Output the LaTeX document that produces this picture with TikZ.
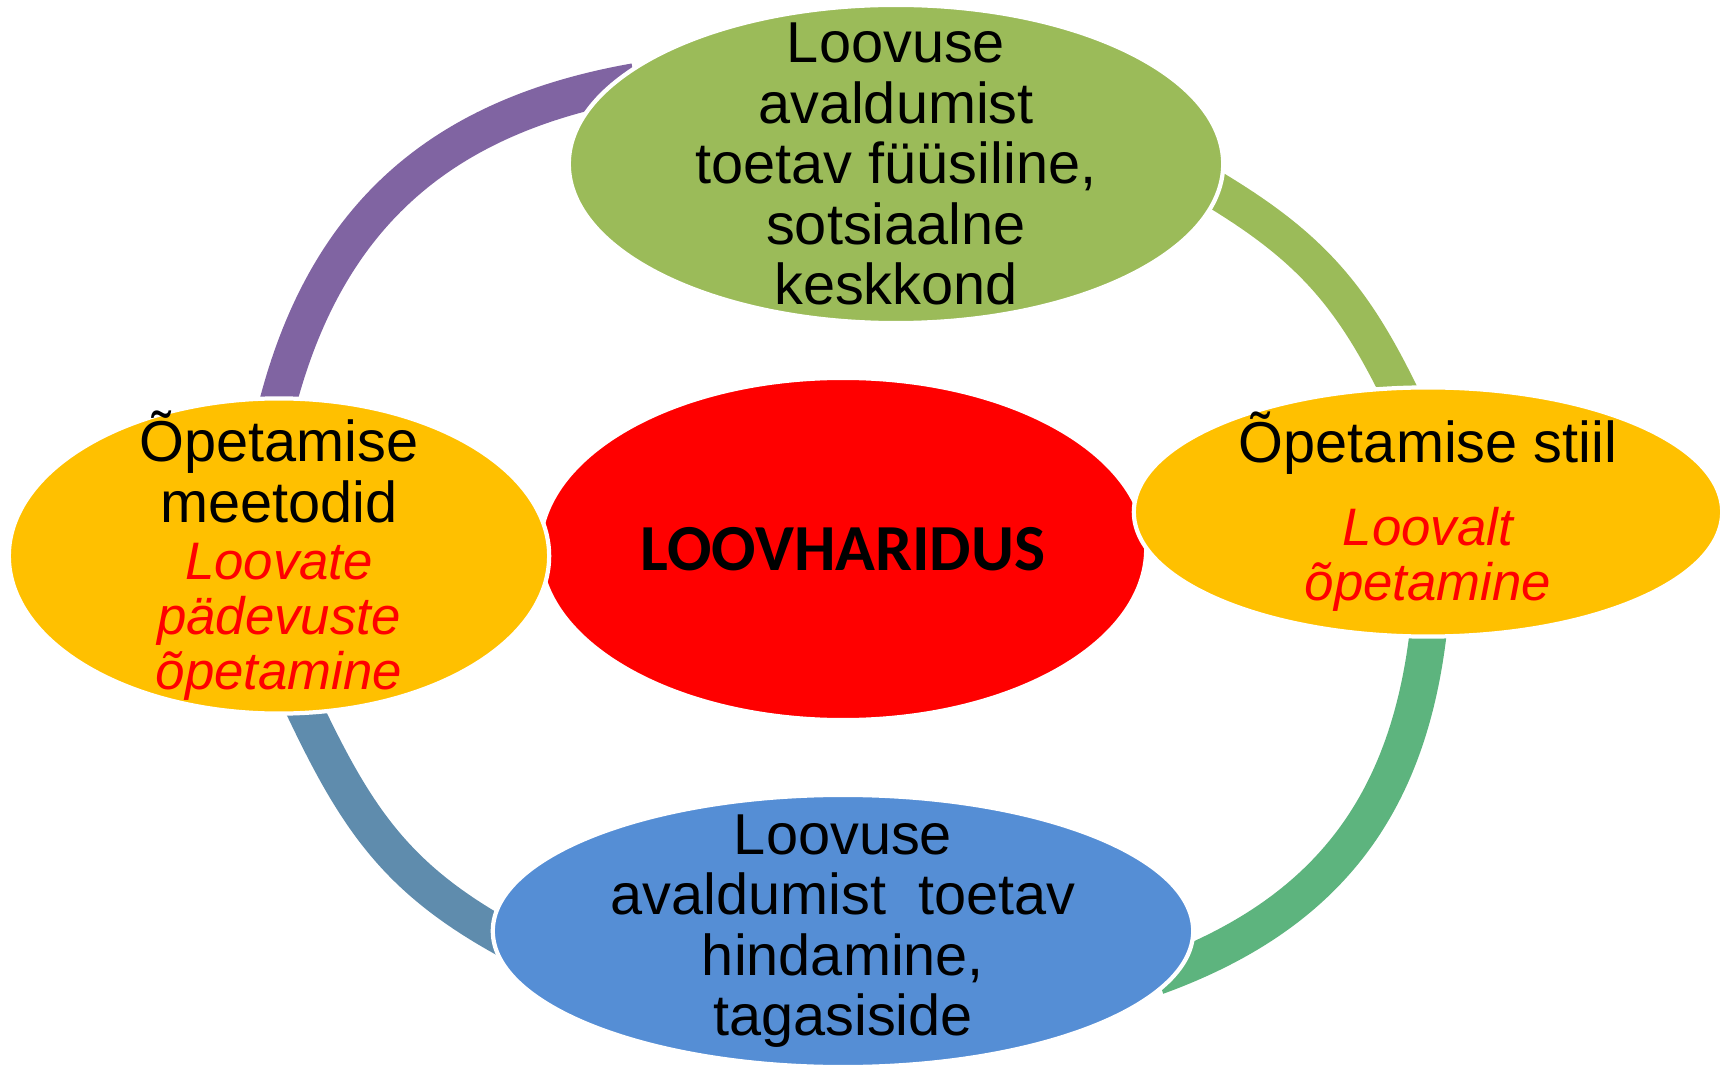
\documentclass[tikz,border=0pt]{standalone}
\usepackage{fontspec}
\setmainfont{Liberation Sans}
\newfontfamily\carlito{Carlito}
\usetikzlibrary{shapes.geometric,backgrounds}
\definecolor{lilla}{HTML}{8064A2}
\definecolor{roheline}{HTML}{9BBB59}
\definecolor{mererohe}{HTML}{5DB47E}
\definecolor{hallsinine}{HTML}{5F8CAD}
\definecolor{kollane}{HTML}{FFC000}
\definecolor{sinine}{HTML}{558ED5}
\newcommand{\punane}[1]{{\color{red}\itshape\fontsize{15}{15.7}\selectfont #1}}

\begin{document}
\begin{tikzpicture}[x=0.01cm, y=0.01cm,
  blob/.style={ellipse, draw=white, line width=1.2pt, inner sep=0pt},
  tekst/.style={align=center, inner sep=0pt, font=\fontsize{16.4}{17.2}\selectfont},
  ring/.style={line width=0.37cm, shorten <=-8pt, shorten >=-8pt}]
\useasboundingbox (0,0) rectangle (1727,1066);

\node[blob, fill=red, minimum width=6.06cm, minimum height=3.42cm] (loov) at (843,517) {};
\node[blob, fill=roheline, minimum width=6.54cm, minimum height=3.18cm] (keskkond) at (896,902) {};
\node[blob, fill=kollane, minimum width=5.88cm, minimum height=2.49cm] (stiil) at (1428,554) {};
\node[blob, fill=kollane, minimum width=5.40cm, minimum height=3.15cm] (meetodid) at (279,510) {};
\node[blob, fill=sinine, minimum width=7.00cm, minimum height=2.72cm] (hindamine) at (843,135) {};

\node[inner sep=0pt, font=\carlito\bfseries\fontsize{18.7}{20}\selectfont] (loovtekst) at (loov) {LOOVHARIDUS};
\node[tekst] (keskkondtekst) at (keskkond) {Loovuse\\ avaldumist\\ toetav füüsiline,\\ sotsiaalne\\ keskkond};
\node[tekst] (stiiltekst) at (stiil) {Õpetamise stiil\\[6.3pt] \punane{Loovalt}\\[-1.5pt] \punane{õpetamine}};
\node[tekst] (meetodidtekst) at (meetodid) {Õpetamise\\ meetodid\\[-0.9pt] \punane{Loovate}\\[-1.5pt] \punane{pädevuste}\\[-1.5pt] \punane{õpetamine}};
\node[tekst] (hindaminetekst) at (hindamine) {Loovuse\\ avaldumist~~toetav\\ hindamine,\\ tagasiside};

\begin{pgfonlayer}{background}
\draw[ring, lilla] (meetodid.north) to[out=77, in=190] (keskkond.165);
\draw[ring, roheline] (keskkond.-5) to[out=-30, in=115] (stiil.104);
\draw[ring, mererohe] (stiil.south) to[out=-95, in=20] (hindamine.-6);
\draw[ring, hallsinine] (meetodid.-80) to[out=-65, in=152] (hindamine.west);
\end{pgfonlayer}
\end{tikzpicture}
\end{document}
